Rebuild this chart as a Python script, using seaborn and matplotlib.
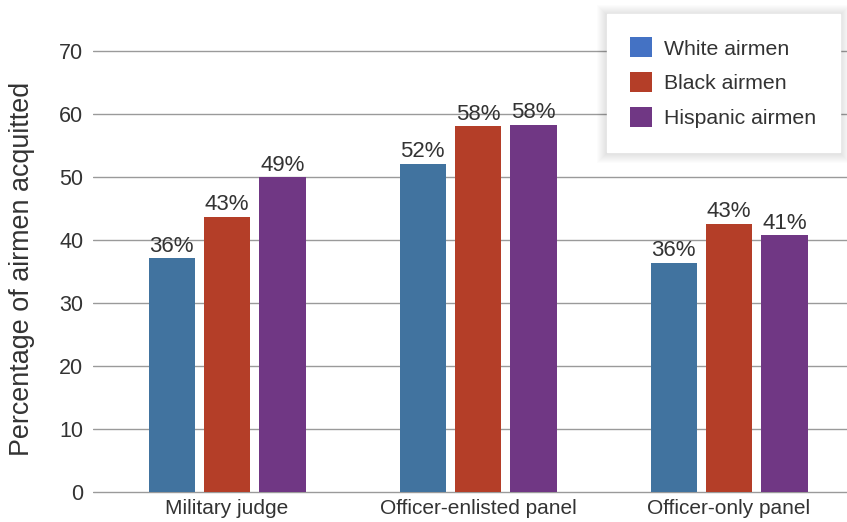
import numpy as np
import pandas as pd
import matplotlib
matplotlib.use("Agg")
import matplotlib.pyplot as plt
import seaborn as sns
from matplotlib.patches import Patch, Rectangle

# --- data ---
venues = ["Military judge", "Officer-enlisted panel", "Officer-only panel"]
groups = ["White airmen", "Black airmen", "Hispanic airmen"]
white = [37.1, 52.1, 36.4]
black = [43.7, 58.1, 42.6]
hispanic = [50.0, 58.3, 40.8]
white_lbl = ["36%", "52%", "36%"]
black_lbl = ["43%", "58%", "43%"]
hispanic_lbl = ["49%", "58%", "41%"]

bar_colors = ["#41739f", "#b43e28", "#703784"]
legend_colors = ["#4472c4", "#b43e28", "#703784"]
txt = "#333333"

df = pd.DataFrame({
    "venue": venues * 3,
    "group": [g for g in groups for _ in venues],
    "pct": white + black + hispanic,
})

sns.set_theme(style="white")
plt.rcParams["font.family"] = ["Liberation Sans", "DejaVu Sans"]

fig = plt.figure(figsize=(8.47, 5.22), dpi=100)
ax = fig.add_axes([0.1098, 0.0383, 0.8902, 0.9617])

sns.barplot(data=df, x="venue", y="pct", hue="group", order=venues,
            hue_order=groups, palette=bar_colors, width=0.663, gap=0.17,
            saturation=1, linewidth=0, ax=ax, legend=False, zorder=3)

for cont, lbls in zip(ax.containers, [white_lbl, black_lbl, hispanic_lbl]):
    ax.bar_label(cont, labels=lbls, padding=1, fontsize=16, color=txt)

ax.set_ylim(-1.59, 78.1)
ax.set_xlim(-0.534, 2.47)
ax.set_yticks(range(0, 71, 10))
ax.yaxis.grid(True, color="#9a9a9a", linewidth=1.0, zorder=0)
ax.set_axisbelow(True)
for s in ax.spines.values():
    s.set_visible(False)
ax.tick_params(axis="both", length=0, labelsize=15.5, colors=txt)
ax.tick_params(axis="y", pad=7)
ax.tick_params(axis="x", pad=-2.5, labelsize=15)
ax.set_xlabel("")
ax.set_ylabel("Percentage of airmen acquitted", fontsize=19.4, color=txt)
ax.yaxis.set_label_coords(-0.077, 0.464)

handles = [Patch(facecolor=c, edgecolor="none") for c in legend_colors]
leg = fig.legend(handles, groups, loc="upper left", bbox_to_anchor=(0.7166, 0.973),
                 bbox_transform=fig.transFigure, borderaxespad=0, fontsize=15.3,
                 frameon=True, fancybox=False, framealpha=1, edgecolor="white",
                 handlelength=1.04, handleheight=1.04, handletextpad=0.55,
                 labelspacing=0.65, borderpad=1.1)
for t in leg.get_texts():
    t.set_color(txt)
leg.set_zorder(10)

# soft shadow around the legend box
fig.canvas.draw()
bb = leg.get_window_extent()
W, H = fig.bbox.width, fig.bbox.height
for k in range(1, 11):
    fig.patches.append(Rectangle(((bb.x0 - k) / W, (bb.y0 - k - 1) / H),
                                 (bb.width + 2 * k) / W, (bb.height + 2 * k) / H,
                                 transform=fig.transFigure, facecolor="black",
                                 edgecolor="none", alpha=0.01, zorder=9))

fig.savefig("out.png", dpi=100)
